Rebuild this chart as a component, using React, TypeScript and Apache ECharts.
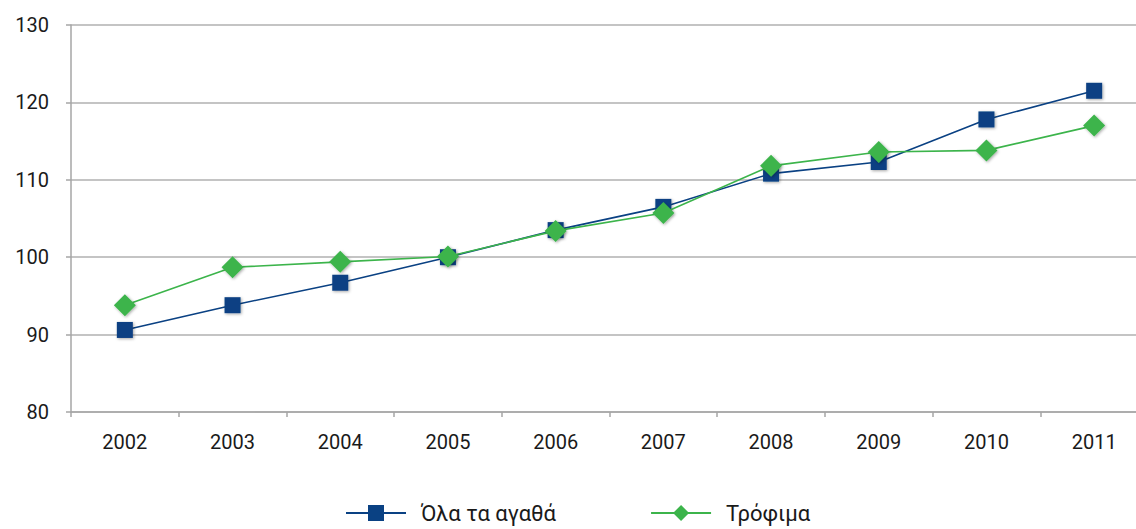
import React, { useEffect, useRef } from "react";
import * as echarts from "echarts";

const years = ["2002", "2003", "2004", "2005", "2006", "2007", "2008", "2009", "2010", "2011"];
const allGoods = [90.6, 93.8, 96.7, 100.0, 103.5, 106.5, 110.8, 112.3, 117.8, 121.5];
const food = [93.8, 98.7, 99.4, 100.1, 103.4, 105.7, 111.8, 113.6, 113.8, 117.0];
const seriesNames = ["Όλα τα αγαθά", "Τρόφιμα"];

export default function App() {
  const ref = useRef<HTMLDivElement>(null);
  useEffect(() => {
    document.body.style.margin = "0";
    const chart = echarts.init(ref.current!, null, { renderer: "svg" });
    const font = "Roboto, 'DejaVu Sans', sans-serif";
    chart.setOption({
      animation: false,
      backgroundColor: "#ffffff",
      grid: { left: 71, width: 1077, top: 25, bottom: 117, outerBoundsMode: "none", containLabel: false },
      legend: {
        bottom: 0,
        left: 340,
        itemWidth: 60,
        itemHeight: 20,
        itemGap: 94,
        textStyle: { fontFamily: font, fontSize: 22, color: "#1a1a1a", padding: [0, 0, 0, 10] },
        data: seriesNames,
      },
      xAxis: {
        type: "category",
        data: years,
        boundaryGap: true,
        axisLine: { lineStyle: { color: "#a6a6a6", width: 1.5 } },
        axisTick: { show: true, length: 5, lineStyle: { color: "#a6a6a6", width: 1.5 } },
        axisLabel: { fontFamily: font, fontSize: 20, color: "#1a1a1a", margin: 20 },
      },
      yAxis: {
        type: "value",
        min: 80,
        max: 130,
        interval: 10,
        axisLine: { show: true, lineStyle: { color: "#a6a6a6", width: 1.5 } },
        axisTick: { show: true, length: 5, lineStyle: { color: "#a6a6a6", width: 1.5 } },
        splitLine: { lineStyle: { color: "#b0b0b0", width: 1.5 } },
        axisLabel: { fontFamily: font, fontSize: 20, color: "#1a1a1a", margin: 22 },
      },
      series: [
        {
          name: seriesNames[0],
          type: "line",
          data: allGoods,
          symbol: "rect",
          symbolSize: 16,
          lineStyle: { color: "#0a4183", width: 1.6 },
          itemStyle: { color: "#0a4183", shadowBlur: 3, shadowColor: "rgba(0,0,0,0.35)", shadowOffsetX: 1, shadowOffsetY: 1 },
          z: 2,
        },
        {
          name: seriesNames[1],
          type: "line",
          data: food,
          symbol: "diamond",
          symbolSize: 22,
          lineStyle: { color: "#3cb44b", width: 1.6 },
          itemStyle: { color: "#3cb44b", shadowBlur: 3, shadowColor: "rgba(0,0,0,0.35)", shadowOffsetX: 1, shadowOffsetY: 1 },
          z: 3,
        },
      ],
    });
    return () => chart.dispose();
  }, []);
  return <div ref={ref} style={{ width: 1136, height: 529 }} />;
}
